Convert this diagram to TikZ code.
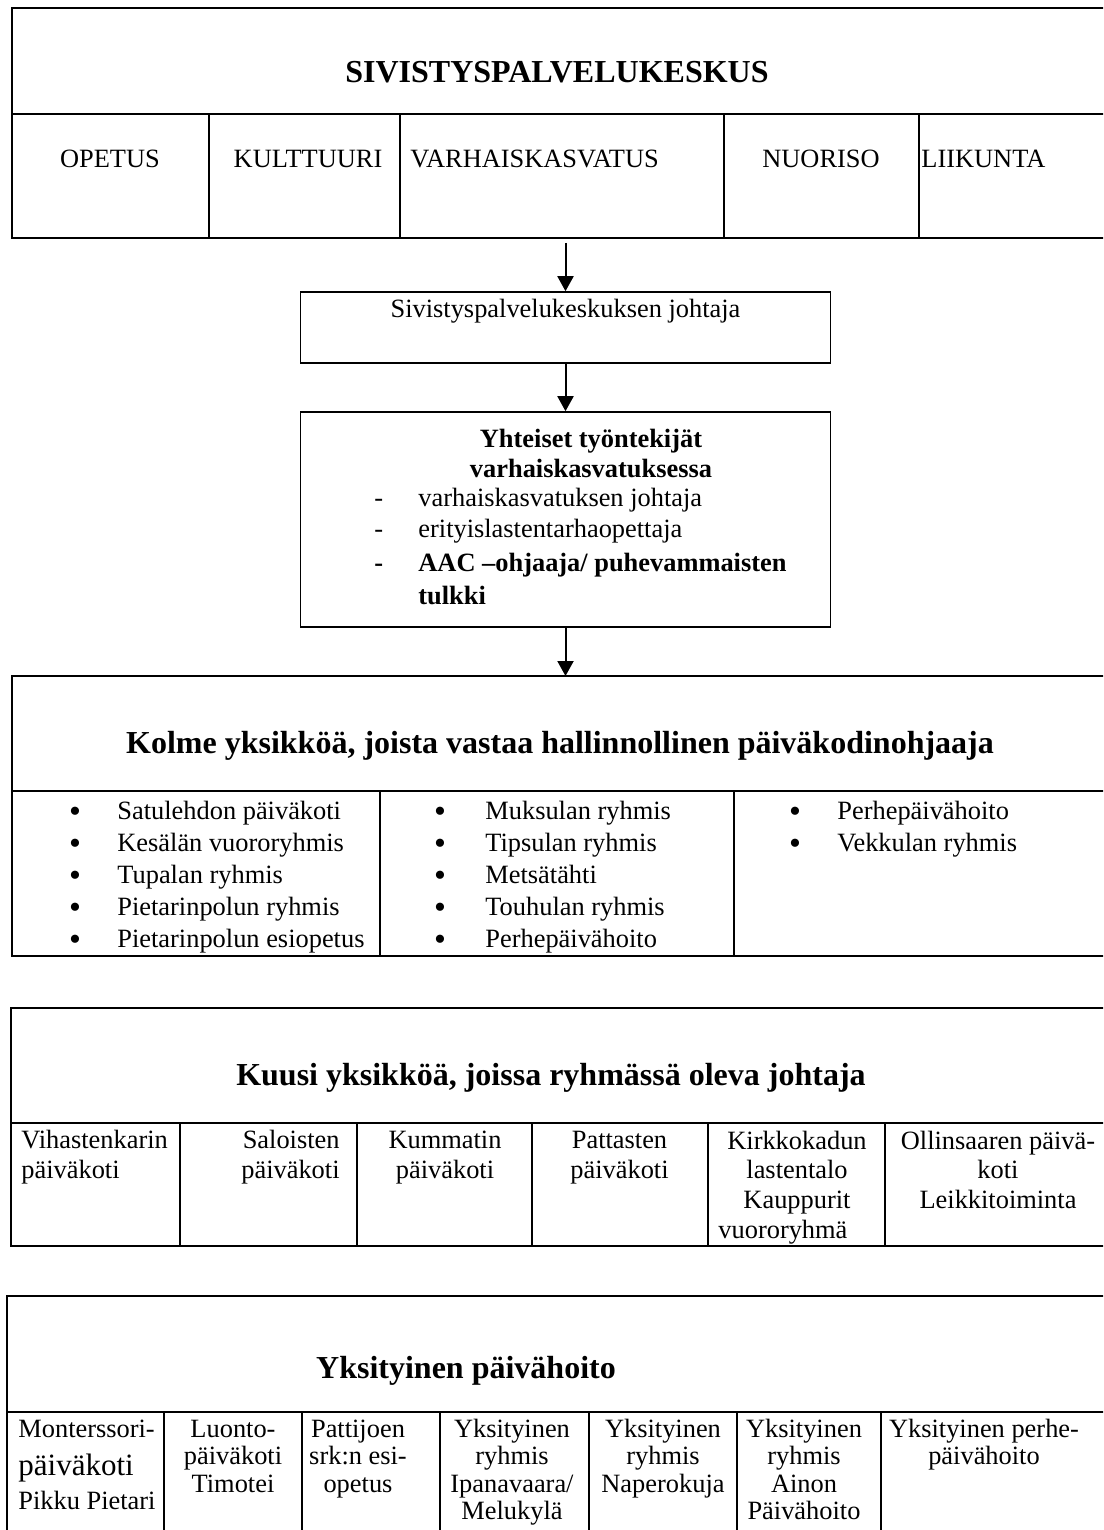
\documentclass[tikz,border=0pt]{standalone}
\usepackage{fontspec}
\setmainfont{Liberation Serif}
\usetikzlibrary{arrows.meta}

\begin{document}
\begin{tikzpicture}[x=0.5pt, y=-0.5pt,
	viiva/.style={line width=0.8pt},
	laatikko/.style={draw, line width=0.8pt, inner sep=0pt},
	otsikko/.style={font=\fontsize{16}{19}\selectfont\bfseries, anchor=base, inner sep=0pt},
	teksti/.style={font=\fontsize{13.2}{14.75}\selectfont, anchor=base, align=center, inner sep=0pt},
	rivi/.style={font=\fontsize{13.2}{15}\selectfont, anchor=base west, inner sep=0pt},
	pallo/.style={font=\fontsize{17}{17}\selectfont, anchor=base, inner sep=0pt},
	nuoli/.style={-{Triangle[length=7.5pt, width=8pt]}, line width=1pt},
	]
	\clip (0,0) rectangle (1103,1530);
	
	% Sivistyspalvelukeskus
	\draw[viiva] (1120,8) -- (12,8) -- (12,238) -- (1120,238);
	\draw[viiva] (12,114) -- (1120,114);
	\foreach \x in {209,400,724,919} \draw[viiva] (\x,114) -- (\x,238);
	\node[otsikko] (keskus) at (557,83) {SIVISTYSPALVELUKESKUS};
	\node[teksti] (opetus) at (110,168) {OPETUS};
	\node[teksti] (kulttuuri) at (308,168) {KULTTUURI};
	\node[rivi] (varhais) at (410,168) {VARHAISKASVATUS};
	\node[teksti] (nuoriso) at (821,168) {NUORISO};
	\node[rivi] (liikunta) at (921,168) {LIIKUNTA};
	\coordinate (keskus-ala) at (565.5,238);
	
	% Johtaja
	\node[laatikko, minimum width=265pt, minimum height=35.5pt] (johtaja) at (565.5,327.5) {};
	\node[teksti] (johtaja-t) at (565.5,317) {Sivistyspalvelukeskuksen johtaja};
	
	% Yhteiset tyontekijat (base = viimeinen rivi)
	\node[laatikko, minimum width=265pt, minimum height=107.5pt] (yhteiset) at (565.5,519.5) {};
	\node[teksti, font=\fontsize{13.2}{15}\selectfont\bfseries] (yhteiset-t) at (591,477) {Yhteiset työntekijät\\varhaiskasvatuksessa};
	\node[rivi] (viiva1) at (374,506) {-};
	\node[rivi] (tyo1) at (418,506) {varhaiskasvatuksen johtaja};
	\node[rivi] (viiva2) at (374,537) {-};
	\node[rivi] (tyo2) at (418,537) {erityislastentarhaopettaja};
	\node[rivi, font=\fontsize{13.2}{15}\selectfont\bfseries] (viiva3) at (374,571) {-};
	\node[rivi, font=\fontsize{13.2}{16.5}\selectfont\bfseries, align=left] (tyo3) at (418,604) {AAC –ohjaaja/ puhevammaisten\\tulkki};
	
	% Nuolet
	\draw[nuoli, shorten <=2.5pt] (keskus-ala) -- (johtaja);
	\draw[nuoli] (johtaja) -- (yhteiset);
	\coordinate (kolme-yla) at (565.5,676);
	\draw[nuoli] (yhteiset) -- (kolme-yla);
	
	% Kolme yksikkoa
	\draw[viiva] (1120,676) -- (12,676) -- (12,956) -- (1120,956);
	\draw[viiva] (12,791) -- (1120,791);
	\foreach \x in {380,734} \draw[viiva] (\x,791) -- (\x,956);
	\node[otsikko] (kolme) at (560,753) {Kolme yksikköä, joista vastaa hallinnollinen päiväkodinohjaaja};
	\foreach \nimi [count=\i] in {Satulehdon päiväkoti, Kesälän vuororyhmis, Tupalan ryhmis, Pietarinpolun ryhmis, Pietarinpolun esiopetus} {
		\node[pallo] (pa-\i) at (75,{822+32*(\i-1)}) {\textbullet};
		\node[rivi] (a-\i) at (117,{819+32*(\i-1)}) {\nimi};
	}
	\foreach \nimi [count=\i] in {Muksulan ryhmis, Tipsulan ryhmis, Metsätähti, Touhulan ryhmis, Perhepäivähoito} {
		\node[pallo] (pb-\i) at (440,{822+32*(\i-1)}) {\textbullet};
		\node[rivi] (b-\i) at (485,{819+32*(\i-1)}) {\nimi};
	}
	\foreach \nimi [count=\i] in {Perhepäivähoito, Vekkulan ryhmis} {
		\node[pallo] (pc-\i) at (795,{822+32*(\i-1)}) {\textbullet};
		\node[rivi] (c-\i) at (837,{819+32*(\i-1)}) {\nimi};
	}
	
	% Kuusi yksikkoa
	\draw[viiva] (1120,1008) -- (11,1008) -- (11,1246) -- (1120,1246);
	\draw[viiva] (11,1123) -- (1120,1123);
	\foreach \x in {180,357,532,708,885} \draw[viiva] (\x,1123) -- (\x,1246);
	\node[otsikko] (kuusi) at (551,1085) {Kuusi yksikköä, joissa ryhmässä oleva johtaja};
	\node[teksti, anchor=base west, align=left] (vihasten) at (21,1178) {Vihastenkarin\\päiväkoti};
	\node[teksti, anchor=base east, align=right] (saloinen) at (340,1178) {Saloisten\\päiväkoti};
	\node[teksti] (kummatti) at (445,1178) {Kummatin\\päiväkoti};
	\node[teksti] (pattanen) at (619.5,1178) {Pattasten\\päiväkoti};
	\node[teksti] (kirkko) at (797,1208) {Kirkkokadun\\lastentalo\\Kauppurit};
	\node[rivi] (vuoro) at (718,1238) {vuororyhmä};
	\node[teksti] (ollin) at (998,1208) {Ollinsaaren päivä-\\koti\\Leikkitoiminta};
	
	% Yksityinen paivahoito
	\draw[viiva] (1120,1296) -- (7,1296) -- (7,1540);
	\draw[viiva] (7,1412) -- (1120,1412);
	\foreach \x in {164,302,440,589,737,881} \draw[viiva] (\x,1412) -- (\x,1540);
	\node[otsikko] (yksit) at (466,1378) {Yksityinen päivähoito};
	\node[rivi] (mont1) at (18,1437) {Monterssori-};
	\node[rivi, font=\fontsize{15.5}{17}\selectfont] (mont2) at (18,1475) {päiväkoti};
	\node[rivi] (mont3) at (18,1509) {Pikku Pietari};
	\node[teksti, font=\fontsize{13.2}{13.75}\selectfont] (luonto) at (233,1492) {Luonto-\\päiväkoti\\Timotei};
	\node[teksti, font=\fontsize{13.2}{13.75}\selectfont] (pattijoki) at (358,1492) {Pattijoen\\srk:n esi-\\opetus};
	\node[teksti, font=\fontsize{13.2}{13.75}\selectfont] (ipana) at (512,1519.5) {Yksityinen\\ryhmis\\Ipanavaara/\\Melukylä};
	\node[teksti, font=\fontsize{13.2}{13.75}\selectfont] (napero) at (663,1492) {Yksityinen\\ryhmis\\Naperokuja};
	\node[teksti, font=\fontsize{13.2}{13.75}\selectfont] (aino) at (804,1519.5) {Yksityinen\\ryhmis\\Ainon\\Päivähoito};
	\node[teksti, font=\fontsize{13.2}{13.75}\selectfont] (perhe) at (984,1464.5) {Yksityinen perhe-\\päivähoito};
\end{tikzpicture}
\end{document}
